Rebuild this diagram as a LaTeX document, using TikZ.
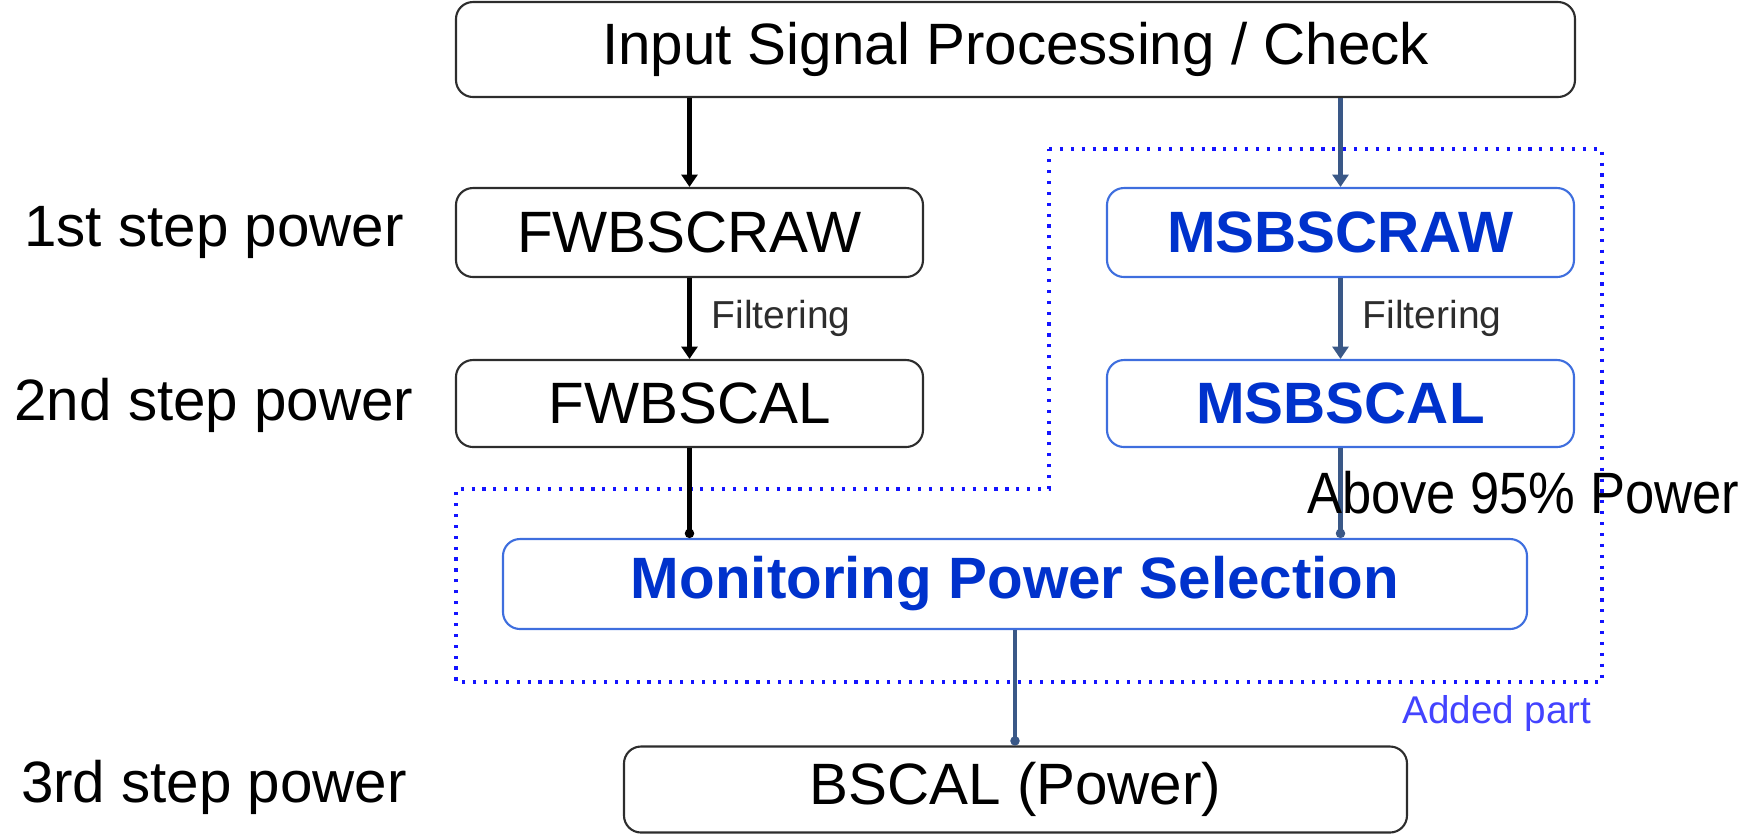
\documentclass[tikz,border=0pt]{standalone}
\usepackage{fontspec}
\setmainfont{Liberation Sans}
\usepackage{tikz}
\usetikzlibrary{arrows.meta}

\definecolor{boxblue}{RGB}{62,110,222}
\definecolor{textblue}{RGB}{0,50,204}
\definecolor{dotblue}{RGB}{20,20,255}
\definecolor{arrowblue}{RGB}{58,88,135}
\definecolor{boxgray}{RGB}{45,45,45}

\begin{document}
\begin{tikzpicture}

\tikzstyle{box_plain} = [rectangle, rounded corners=0.17cm, draw=boxgray, line width=0.6pt, inner sep=0pt, font=\fontsize{16.6}{20}\selectfont]
\tikzstyle{box_added} = [rectangle, rounded corners=0.17cm, draw=boxblue, line width=0.6pt, inner sep=0pt, text=textblue, font=\fontsize{16.6}{20}\selectfont\bfseries]
\tikzstyle{steplabel} = [font=\fontsize{16.6}{20}\selectfont]
\tikzstyle{smalllabel} = [font=\fontsize{11.1}{13}\selectfont, text=boxgray]
\tikzstyle{edge_black} = [draw=black, line width=1.4pt, >={Triangle[length=3.5pt,width=4.5pt]}, ->]
\tikzstyle{edge_blue} = [draw=arrowblue, line width=1.4pt, >={Triangle[length=3.5pt,width=4.5pt]}, ->]
\tikzstyle{edge_black_dot} = [draw=black, line width=1.4pt, >={Circle[length=2.6pt]}, ->]
\tikzstyle{edge_blue_dot} = [draw=arrowblue, line width=1.4pt, >={Circle[length=2.6pt]}, ->]
\tikzstyle{addedline} = [draw=dotblue, line width=0.9pt, dash pattern=on 0.9pt off 2.2pt]

\useasboundingbox (0,0) rectangle (17.54,-8.33);

%------------------------------------------------------------
	\node[box_plain, minimum width=11.19cm, minimum height=0.95cm] (inp) at (10.155,-0.495) {Input Signal Processing / Check};

	\node[box_plain, minimum width=4.67cm, minimum height=0.89cm] (fraw) at (6.895,-2.325) {FWBSCRAW};
	\node[box_plain, minimum width=4.67cm, minimum height=0.87cm] (fcal) at (6.895,-4.035) {FWBSCAL};

	\node[box_added, minimum width=4.67cm, minimum height=0.89cm] (mraw) at (13.405,-2.325) {MSBSCRAW};
	\node[box_added, minimum width=4.67cm, minimum height=0.87cm] (mcal) at (13.405,-4.035) {MSBSCAL};

	\node[box_added, minimum width=10.24cm, minimum height=0.90cm] (mon) at (10.15,-5.84) {Monitoring Power Selection};

	\node[box_plain, minimum width=7.83cm, minimum height=0.86cm] (bscal) at (10.155,-7.895) {BSCAL (Power)};

%------------------------------------------------------------
	\node[steplabel] (step1) at (2.14,-2.32) {1st step power};
	\node[steplabel] (step2) at (2.14,-4.05) {2nd step power};
	\node[steplabel] (step3) at (2.14,-7.87) {3rd step power};

%------------------------------------------------------------
	\draw[addedline] (10.49,-1.49) -- (16.02,-1.49) -- (16.02,-6.82) -- (4.56,-6.82) -- (4.56,-4.89) -- (10.49,-4.89) -- cycle;
	\node[anchor=east, font=\fontsize{11}{13}\selectfont, text=dotblue!80!white] (added) at (16.04,-7.13) {Added part};

%------------------------------------------------------------
	\draw[edge_black] (fraw |- inp.south) -- (fraw.north);
	\draw[edge_blue] (mraw |- inp.south) -- (mraw.north);

	\draw[edge_black] (fraw.south) -- node[smalllabel, right, xshift=0.08cm] (filt1) {Filtering} (fcal.north);
	\draw[edge_blue] (mraw.south) -- node[smalllabel, right, xshift=0.08cm] (filt2) {Filtering} (mcal.north);

	\draw[edge_black_dot] (fcal.south) -- (fcal.south |- mon.north);
	\draw[edge_blue_dot] (mcal.south) -- (mcal.south |- mon.north);

	\draw[edge_blue_dot] (mon.south) -- (mon.south |- bscal.north);

	\node[steplabel] (above95) at (15.23,-4.93) {\scalebox{0.9}[1]{Above 95\% Power}};

\end{tikzpicture}
\end{document}
